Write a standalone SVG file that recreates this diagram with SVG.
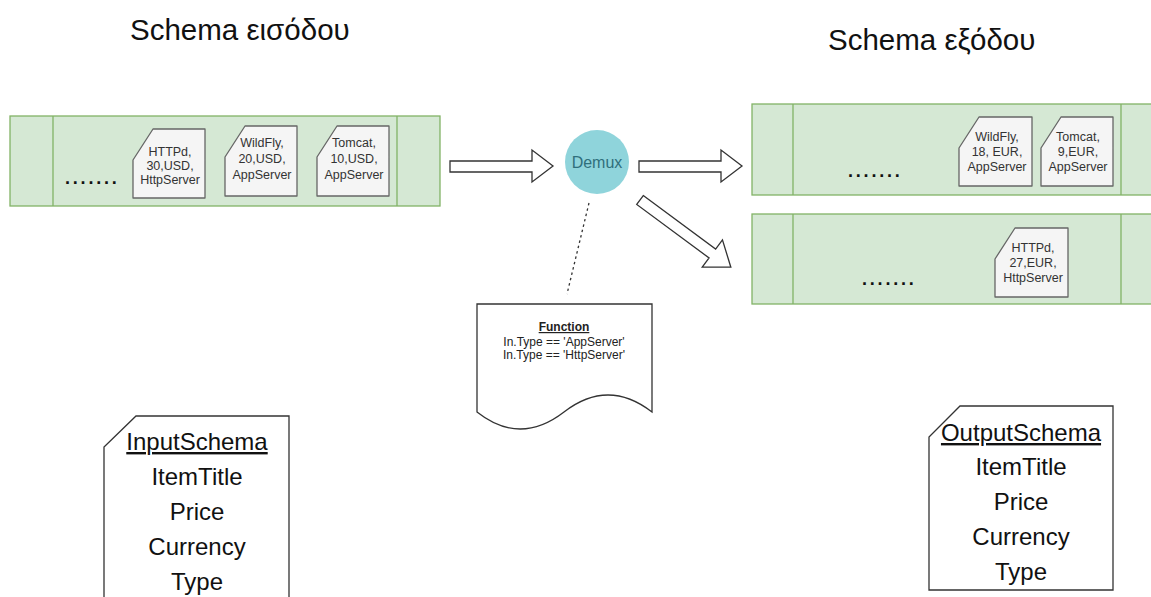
<svg xmlns="http://www.w3.org/2000/svg" width="1151" height="597" viewBox="0 0 1151 597">
<style>
.q{fill:#d5e8d4;stroke:#82b366;stroke-width:1.3}
.qd{stroke:#82b366;stroke-width:1.3}
.card{fill:#f5f5f5;stroke:#666;stroke-width:1.3;stroke-linejoin:round}
.ct{font-family:"Liberation Sans",Arial,sans-serif;font-size:12.5px;fill:#333;text-anchor:middle}
.dots{font-family:"Liberation Sans",Arial,sans-serif;font-size:18px;font-weight:bold;fill:#111;letter-spacing:2.8px}
.title{font-family:"Liberation Sans",Arial,sans-serif;font-size:29.5px;fill:#111}
.arr{fill:#fff;stroke:#333;stroke-width:1.3;stroke-linejoin:miter}
.sc{fill:#fff;stroke:#333;stroke-width:1.3}
.st{font-family:"Liberation Sans",Arial,sans-serif;font-size:24px;fill:#111;text-anchor:middle}
.ft{font-family:"Liberation Sans",Arial,sans-serif;font-size:12px;fill:#222;text-anchor:middle}
</style>
<rect width="1151" height="597" fill="#fff"/>
<text class="title" x="130" y="40">Schema εισόδου</text>
<text class="title" x="828" y="50">Schema εξόδου</text>

<g id="input-queue">
<rect class="q" x="10" y="116" width="430" height="90"/>
<line class="qd" x1="53" y1="116" x2="53" y2="206"/>
<line class="qd" x1="397" y1="116" x2="397" y2="206"/>
<text class="dots" x="65" y="184">.......</text>
</g>
<g id="in-httpd">
<path class="card" d="M153,129 H205 V198 H133 V160 Z"/>
<text class="ct"><tspan x="170" y="156">HTTPd,</tspan><tspan x="170" y="170">30,USD,</tspan><tspan x="170" y="184">HttpServer</tspan></text>
</g>
<g id="in-wildfly">
<path class="card" d="M245,126 H297 V196 H225 V157 Z"/>
<text class="ct"><tspan x="262" y="147">WildFly,</tspan><tspan x="262" y="163">20,USD,</tspan><tspan x="262" y="179">AppServer</tspan></text>
</g>
<g id="in-tomcat">
<path class="card" d="M337,126 H389 V196 H317 V157 Z"/>
<text class="ct"><tspan x="354" y="147">Tomcat,</tspan><tspan x="354" y="163">10,USD,</tspan><tspan x="354" y="179">AppServer</tspan></text>
</g>

<g id="demux">
<circle cx="597" cy="162" r="32" fill="#8fd4db"/>
<text x="597" y="168" font-family="'Liberation Sans',Arial,sans-serif" font-size="16" fill="#2f6f7c" text-anchor="middle">Demux</text>
</g>

<g id="out-queue-1">
<rect class="q" x="752" y="104" width="410" height="91"/>
<line class="qd" x1="793" y1="104" x2="793" y2="195"/>
<line class="qd" x1="1121" y1="104" x2="1121" y2="195"/>
<text class="dots" x="848" y="177">.......</text>
</g>
<g id="out-wildfly">
<path class="card" d="M979,117 H1032 V186 H959 V148 Z"/>
<text class="ct"><tspan x="997" y="141">WildFly,</tspan><tspan x="997" y="156">18, EUR,</tspan><tspan x="997" y="171">AppServer</tspan></text>
</g>
<g id="out-tomcat">
<path class="card" d="M1061,117 H1113 V186 H1041 V148 Z"/>
<text class="ct"><tspan x="1078" y="141">Tomcat,</tspan><tspan x="1078" y="156">9,EUR,</tspan><tspan x="1078" y="171">AppServer</tspan></text>
</g>

<g id="out-queue-2">
<rect class="q" x="752" y="214" width="410" height="90"/>
<line class="qd" x1="793" y1="214" x2="793" y2="304"/>
<line class="qd" x1="1121" y1="214" x2="1121" y2="304"/>
<text class="dots" x="862" y="285">.......</text>
</g>
<g id="out-httpd">
<path class="card" d="M1015,228 H1068 V297 H995 V259 Z"/>
<text class="ct"><tspan x="1033" y="252">HTTPd,</tspan><tspan x="1033" y="267">27,EUR,</tspan><tspan x="1033" y="282">HttpServer</tspan></text>
</g>

<g id="function">
<path class="sc" d="M477,304 H652 V412 Q608,378 564,412 Q520,446 477,412 Z"/>
<text class="ft" x="564" y="331" font-weight="bold" text-decoration="underline">Function</text>
<text class="ft" x="564" y="346">In.Type == 'AppServer'</text>
<text class="ft" x="564" y="359">In.Type == 'HttpServer'</text>
</g>

<g id="input-schema">
<path class="sc" d="M136,416 H289 V600 H104 V447 Z"/>
<text class="st" x="197" y="450" text-decoration="underline">InputSchema</text>
<text class="st" x="197" y="485">ItemTitle</text>
<text class="st" x="197" y="520">Price</text>
<text class="st" x="197" y="555">Currency</text>
<text class="st" x="197" y="590">Type</text>
</g>

<g id="output-schema">
<path class="sc" d="M960,406 H1113 V590 H929 V437 Z"/>
<text class="st" x="1021" y="441" text-decoration="underline">OutputSchema</text>
<text class="st" x="1021" y="475">ItemTitle</text>
<text class="st" x="1021" y="510">Price</text>
<text class="st" x="1021" y="545">Currency</text>
<text class="st" x="1021" y="580">Type</text>
</g>

<g id="connectors">
<path class="arr" d="M450,161 H532 V150 L553,166 L532,182 V172 H450 Z"/>
<path class="arr" d="M639,161 H721 V150 L742,166 L721,182 V172 H639 Z"/>
<g transform="translate(640,200) rotate(36.5)">
<path class="arr" d="M0,-5.5 H90 V-17 L113,0 L90,17 V5.5 H0 Z"/>
</g>
<line x1="589" y1="203" x2="567" y2="294" stroke="#333" stroke-width="1.3" stroke-dasharray="2.5,3"/>
</g>
</svg>
